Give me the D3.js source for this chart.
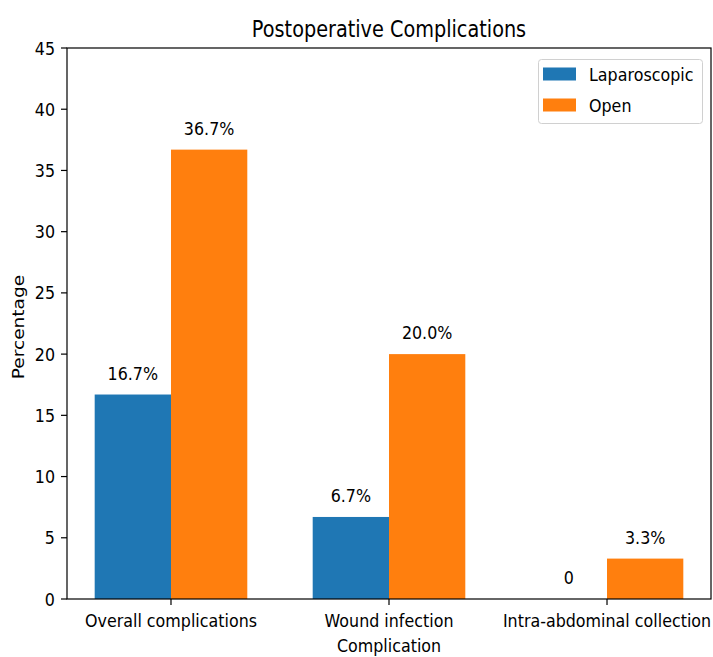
<!DOCTYPE html>
<html>
<head>
<meta charset="utf-8">
<script src="https://cdn.jsdelivr.net/npm/d3@7"></script>
<style>
  html, body { margin: 0; padding: 0; background: #fff; }
  svg { display: block; font-family: "DejaVu Sans", sans-serif; }
</style>
</head>
<body>
<svg id="chart" width="713" height="657"></svg>
<script>
const categories = ["Overall complications", "Wound infection", "Intra-abdominal collection"];
const seriesNames = ["Laparoscopic", "Open"];
const laparoscopic = [16.7, 6.7, 0];
const open = [36.7, 20.0, 3.3];
const laparoscopicLabels = ["16.7%", "6.7%", "0"];
const openLabels = ["36.7%", "20.0%", "3.3%"];
const yTicks = [0, 5, 10, 15, 20, 25, 30, 35, 40, 45];
const colors = ["#1f77b4", "#ff7f0e"];
const titleText = "Postoperative Complications";
const xLabelText = "Complication";
const yLabelText = "Percentage";

const svg = d3.select("#chart");
const pLeft = 67, pRight = 711, pTop = 48, pBottom = 599;
const barW = 0.35;
const kx = 0.86;     // horizontal compression of glyphs
const fs = 18.5;

const x = d3.scaleLinear().domain([-0.477, 2.477]).range([pLeft, pRight]);
const y = d3.scaleLinear().domain([0, 45]).range([pBottom, pTop]);

function txt(g, s, px, py, size, k, anchor) {
  return g.append("text")
    .attr("transform", `translate(${px},${py}) scale(${k},1)`)
    .attr("text-anchor", anchor || "middle")
    .attr("font-size", size)
    .attr("fill", "#000")
    .text(s);
}

// bars
const series = [
  {vals: laparoscopic, labels: laparoscopicLabels, off: -barW, color: colors[0]},
  {vals: open, labels: openLabels, off: 0, color: colors[1]}
];
series.forEach(s => {
  svg.append("g").selectAll("rect").data(s.vals).join("rect")
    .attr("x", (d, i) => x(i + s.off))
    .attr("width", (d, i) => x(i + s.off + barW) - x(i + s.off))
    .attr("y", d => y(d))
    .attr("height", d => y(0) - y(d))
    .attr("fill", s.color);
  const lg = svg.append("g");
  s.vals.forEach((d, i) => {
    txt(lg, s.labels[i], x(i + s.off + barW / 2), y(d) - 15, fs, kx);
  });
});

// axes frame
const frame = svg.append("g").attr("stroke", "#000").attr("stroke-width", 1.2).attr("fill", "none");
frame.append("rect").attr("x", pLeft).attr("y", pTop).attr("width", pRight - pLeft).attr("height", pBottom - pTop);

// y axis ticks
const yAxis = svg.append("g");
yTicks.forEach(t => {
  yAxis.append("line").attr("x1", pLeft - 6).attr("x2", pLeft).attr("y1", y(t)).attr("y2", y(t))
    .attr("stroke", "#000").attr("stroke-width", 1.2);
  txt(yAxis, String(t), pLeft - 12, y(t) + 6.5, fs, kx, "end");
});

// x axis ticks
const xAxis = svg.append("g");
categories.forEach((c, i) => {
  xAxis.append("line").attr("x1", x(i)).attr("x2", x(i)).attr("y1", pBottom).attr("y2", pBottom + 6)
    .attr("stroke", "#000").attr("stroke-width", 1.2);
  txt(xAxis, c, x(i), 627, fs, kx);
});

// labels
txt(svg, titleText, (pLeft + pRight) / 2, 37, 23.5, 0.82);
txt(svg, xLabelText, (pLeft + pRight) / 2, 652, fs, kx);
svg.append("text")
  .attr("transform", `translate(24,327) rotate(-90) scale(1.16,1)`)
  .attr("text-anchor", "middle").attr("font-size", 16).attr("fill", "#000")
  .text(yLabelText);

// legend
const leg = svg.append("g");
leg.append("rect").attr("x", 538.5).attr("y", 59.5).attr("width", 164).attr("height", 64)
  .attr("rx", 3).attr("fill", "#fff").attr("fill-opacity", 0.8).attr("stroke", "#d0d0d0");
seriesNames.forEach((n, i) => {
  const cy = 74 + i * 31;
  leg.append("rect").attr("x", 543).attr("y", cy - 6.5).attr("width", 33).attr("height", 13).attr("fill", colors[i]);
  txt(leg, n, 589, cy + 7, fs, kx, "start");
});
</script>
</body>
</html>
